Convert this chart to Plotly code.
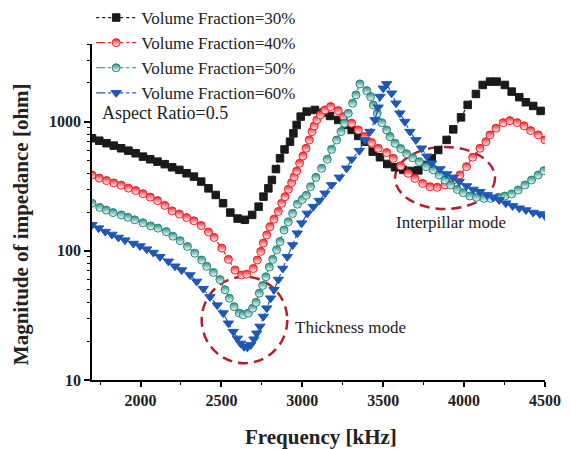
import plotly.graph_objects as go

# ---------------- data ----------------
freq_30 = [1700, 1745, 1790, 1835, 1880, 1925, 1970, 2015, 2060, 2105, 2150, 2195, 2240, 2285,
           2330, 2375, 2420, 2465, 2510, 2555, 2600, 2645, 2690, 2730, 2760, 2790, 2812, 2837,
           2862, 2890, 2924, 2945, 2965, 2990, 3027, 3078, 3130, 3171, 3222, 3264, 3305, 3346,
           3387, 3435, 3480, 3525, 3573, 3624, 3676, 3717, 3758, 3800, 3840, 3892, 3933, 3981,
           4022, 4073, 4115, 4160, 4201, 4252, 4294, 4341, 4382, 4427, 4473]
imp_30 = [745, 713, 682, 653, 623, 597, 570, 537, 512, 491, 469, 444, 424, 399,
          376, 344, 305, 271, 234, 198, 178, 174, 190, 220, 263, 305, 354, 430,
          521, 610, 701, 813, 944, 1096, 1198, 1234, 1177, 1109, 1033, 944, 864, 776,
          701, 587, 531, 471, 444, 424, 416, 420, 463, 521, 604, 723, 873, 1081,
          1350, 1641, 1927, 2045, 2045, 1927, 1711, 1549, 1416, 1325, 1213]

freq_40 = [1700, 1745, 1790, 1835, 1880, 1925, 1970, 2015, 2060, 2105, 2150, 2195, 2240, 2285,
           2330, 2375, 2420, 2455, 2502, 2543, 2584, 2625, 2656, 2697, 2722, 2743, 2759, 2780,
           2800, 2825, 2852, 2873, 2893, 2914, 2934, 2950, 2965, 2983, 3004, 3023, 3043, 3060,
           3074, 3090, 3112, 3140, 3175, 3222, 3256, 3305, 3346, 3387, 3428, 3469, 3521, 3562,
           3608, 3655, 3696, 3744, 3789, 3834, 3882, 3933, 3974, 4015, 4053, 4098, 4135, 4160,
           4197, 4242, 4283, 4328, 4370, 4411, 4458, 4500]
imp_40 = [387, 366, 350, 336, 323, 306, 293, 277, 261, 245, 225, 204, 193, 181,
          171, 157, 140, 127, 105, 86, 71, 65, 66, 73, 85, 99, 115, 133,
          154, 176, 202, 234, 263, 300, 338, 375, 415, 477, 543, 623, 723, 839,
          929, 1033, 1130, 1234, 1310, 1220, 1096, 975, 864, 767, 690, 623, 577, 521,
          455, 398, 364, 333, 314, 311, 324, 354, 387, 449, 531, 623, 701, 791,
          891, 984, 1020, 984, 929, 854, 791, 723]

freq_50 = [1700, 1748, 1788, 1830, 1881, 1922, 1964, 2015, 2063, 2108, 2159, 2200, 2245, 2290,
           2335, 2378, 2409, 2450, 2491, 2522, 2549, 2578, 2610, 2635, 2666, 2693, 2714, 2734,
           2755, 2775, 2796, 2817, 2841, 2862, 2887, 2913, 2940, 2970, 3000, 3025, 3051, 3084,
           3119, 3154, 3181, 3212, 3239, 3260, 3284, 3311, 3332, 3356, 3398, 3422, 3439, 3463,
           3491, 3521, 3542, 3573, 3608, 3645, 3682, 3723, 3764, 3809, 3846, 3882, 3917, 3958,
           3995, 4036, 4077, 4123, 4164, 4211, 4252, 4294, 4334, 4376, 4417, 4458, 4493]
imp_50 = [234, 217, 207, 198, 190, 182, 174, 165, 156, 150, 141, 130, 120, 108,
          96, 85, 76, 68, 60, 50, 43, 37, 33, 32, 33, 36, 40, 47,
          54, 63, 75, 86, 102, 118, 145, 168, 195, 230, 250, 270, 314, 371,
          436, 512, 611, 723, 839, 975, 1164, 1391, 1614, 1963, 1742, 1566, 1350, 1164,
          984, 864, 767, 681, 620, 565, 526, 491, 449, 424, 387, 354, 324, 299,
          282, 266, 260, 255, 255, 260, 266, 276, 296, 324, 354, 387, 418]

freq_60 = [1700, 1741, 1782, 1823, 1863, 1904, 1956, 1997, 2038, 2079, 2120, 2172, 2213, 2254,
           2306, 2347, 2388, 2429, 2474, 2511, 2543, 2573, 2598, 2619, 2640, 2660, 2681, 2701,
           2718, 2738, 2759, 2780, 2804, 2825, 2852, 2879, 2907, 2940, 2969, 2996, 3031, 3068,
           3105, 3140, 3181, 3229, 3274, 3305, 3352, 3387, 3418, 3449, 3469, 3480, 3500, 3521,
           3552, 3579, 3603, 3634, 3665, 3702, 3737, 3770, 3800, 3851, 3892, 3933, 3970, 4015,
           4056, 4098, 4143, 4180, 4217, 4258, 4300, 4341, 4382, 4427, 4468, 4500]
imp_60 = [159, 150, 141, 134, 127, 121, 114, 109, 103, 97, 90, 83, 76, 71,
          65, 58, 51, 44, 38, 33, 27.5, 23.7, 21, 19.2, 18.1, 17.9, 18.7, 20.7,
          23, 26, 31, 36, 43, 50, 60, 73, 90, 111, 137, 164, 195, 220,
          245, 279, 324, 371, 436, 512, 597, 723, 839, 1033, 1295, 1566, 1815, 1963,
          1662, 1391, 1164, 1002, 839, 723, 623, 540, 477, 431, 394, 371, 344, 318,
          299, 287, 271, 260, 248, 234, 223, 214, 207, 198, 193, 186]

names = ["Volume Fraction=30%", "Volume Fraction=40%", "Volume Fraction=50%", "Volume Fraction=60%"]
colors = ["#1a1a1a", "#ee2026", "#25897f", "#1f58b4"]

x_ticks = [2000, 2500, 3000, 3500, 4000, 4500]
x_minor = [1750, 2250, 2750, 3250, 3750, 4250]
y_ticks = [10, 100, 1000]
y_minor = [20, 30, 40, 50, 60, 70, 80, 90, 200, 300, 400, 500, 600, 700, 800, 900, 2000, 3000, 4000]

SERIF = "Liberation Serif"
ELLIPSE = "#b0202f"

fig = go.Figure()

series = [(freq_30, imp_30), (freq_40, imp_40), (freq_50, imp_50), (freq_60, imp_60)]
styles = [
    dict(symbol="square", size=7.5, dash="dot"),
    dict(symbol="circle", size=8, dash="dashdot"),
    dict(symbol="circle", size=8, dash="dashdot"),
    dict(symbol="triangle-down", size=9, dash="dashdot"),
]
for (fx, fy), name, col, st in zip(series, names, colors, styles):
    marker = dict(symbol=st["symbol"], size=st["size"], color=col,
                  line=dict(color=col, width=1))
    if st["symbol"] == "circle":
        marker["gradient"] = dict(type="vertical", color="white")
    fig.add_trace(go.Scatter(
        x=fx, y=fy, name=name, mode="lines+markers",
        line=dict(color=col, width=1.2, dash=st["dash"]),
        marker=marker,
    ))

# dashed ellipses marking the modes
fig.add_shape(type="circle", xref="x", yref="y", x0=2378, x1=2907, y0=13.5, y1=63.1,
              line=dict(color=ELLIPSE, width=2.5, dash="10px,6px"), layer="below")
fig.add_shape(type="circle", xref="x", yref="y", x0=3573, x1=4191, y0=211, y1=638,
              line=dict(color=ELLIPSE, width=2.5, dash="10px,6px"), layer="below")

fig.add_annotation(x=2945, y=1.41, xref="x", yref="y", text="Thickness mode", showarrow=False,
                   xanchor="left", yanchor="middle", font=dict(family=SERIF, size=17, color="#222"))
fig.add_annotation(x=3566, y=2.218, xref="x", yref="y", text="Interpillar mode", showarrow=False,
                   xanchor="left", yanchor="middle", font=dict(family=SERIF, size=17, color="#222"))
fig.add_annotation(x=0.018, y=0.795, xref="paper", yref="paper", text="Aspect Ratio=0.5",
                   showarrow=False, xanchor="left", yanchor="middle",
                   font=dict(family=SERIF, size=18, color="#222"))

# axis titles
fig.add_annotation(x=0.505, y=-0.17, xref="paper", yref="paper", text="Frequency [kHz]",
                   showarrow=False, xanchor="center", yanchor="middle",
                   font=dict(family=SERIF, size=21, color="#222", weight="bold"))
fig.add_annotation(x=-0.158, y=0.465, xref="paper", yref="paper", text="Magnitude of impedance [ohm]",
                   showarrow=False, xanchor="center", yanchor="middle", textangle=-90,
                   font=dict(family=SERIF, size=21, color="#222", weight="bold"))

fig.update_layout(
    width=570, height=449,
    margin=dict(l=92, r=25, t=44, b=69, autoexpand=False),
    paper_bgcolor="white", plot_bgcolor="white",
    showlegend=True,
    legend=dict(xref="container", yref="container", x=0.16, y=1.0,
                xanchor="left", yanchor="top", bgcolor="rgba(0,0,0,0)",
                font=dict(family=SERIF, size=17, color="#222"), tracegroupgap=0,
                itemwidth=40),
)
fig.update_xaxes(
    range=[1700, 4500], tickvals=x_ticks, ticktext=[str(v) for v in x_ticks],
    showline=True, linecolor="black", linewidth=1.5, mirror=False, automargin=False,
    ticks="outside", ticklen=5, tickwidth=1.5, tickcolor="black",
    minor=dict(tickvals=x_minor, ticks="outside", ticklen=3, tickwidth=1.2, tickcolor="black"),
    showgrid=False, zeroline=False,
    tickfont=dict(family=SERIF, size=16, color="#222", weight="bold"),
)
fig.update_yaxes(
    type="log", range=[1, 3.60206], tickvals=y_ticks, ticktext=["10", "100", "1000"],
    showline=True, linecolor="black", linewidth=1.5, mirror=False, automargin=False,
    ticks="outside", ticklen=6, tickwidth=1.5, tickcolor="black",
    minor=dict(tickvals=y_minor, ticks="outside", ticklen=3, tickwidth=1.2, tickcolor="black"),
    showgrid=False, zeroline=False,
    tickfont=dict(family=SERIF, size=16, color="#222", weight="bold"),
)

fig.write_html("out.html", config={"displayModeBar": False},
               post_script="document.body.style.margin='0';document.body.style.overflow='hidden';")
